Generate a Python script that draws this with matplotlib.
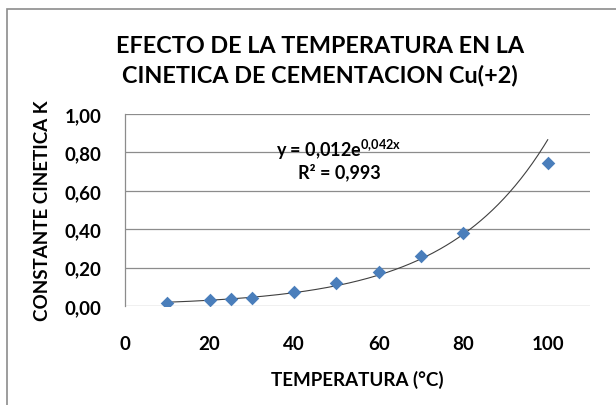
import matplotlib.pyplot as plt
import numpy as np
from matplotlib.patches import Rectangle
from matplotlib.ticker import FuncFormatter

# Datos: temperatura (°C) y constante cinetica K
temperatura = [10, 20, 25, 30, 40, 50, 60, 70, 80, 100]
constante_k = [0.018, 0.030, 0.035, 0.044, 0.073, 0.118, 0.177, 0.260, 0.379, 0.744]

plt.rcParams['font.family'] = ['Lato', 'DejaVu Sans']
plt.rcParams['font.weight'] = 'bold'
plt.rcParams['mathtext.fontset'] = 'custom'
plt.rcParams['mathtext.rm'] = 'Lato:bold'
plt.rcParams['mathtext.bf'] = 'Lato:bold'

fig = plt.figure(figsize=(6.16, 4.06), dpi=100)

# Marco del grafico (estilo Excel)
fig.patches.append(Rectangle((7 / 616, -0.05), 1.1, 1 - 10 / 406 + 0.05,
                             transform=fig.transFigure, fill=False,
                             edgecolor='#8c8c8c', linewidth=1.2))

ax = fig.add_axes([125 / 616, 1 - 307 / 406, 465 / 616, 192 / 406])

# Ajuste exponencial (linea de tendencia)
x = np.array(temperatura)
y = np.array(constante_k)
b, ln_a = np.polyfit(x, np.log(y), 1)
xs = np.linspace(x.min(), x.max(), 200)
ax.plot(xs, np.exp(ln_a) * np.exp(b * xs), color='#404040', linewidth=0.8, zorder=2)

ax.scatter(temperatura, constante_k, marker='D', s=48, color='#4a7ebb', zorder=3,
           linewidths=0)

ax.set_xlim(0, 110)
ax.set_ylim(0, 1.0)
ax.set_xticks([0, 20, 40, 60, 80, 100])
ax.set_yticks([0, 0.2, 0.4, 0.6, 0.8, 1.0])
ax.yaxis.set_major_formatter(FuncFormatter(lambda v, p: f"{v:.2f}".replace('.', ',')))
ax.tick_params(length=0, labelsize=13.5)
ax.tick_params(axis='x', pad=21)
ax.tick_params(axis='y', pad=17)
ax.grid(axis='y', color='#8c8c8c', linewidth=0.9)
ax.set_axisbelow(True)
for s in ['top', 'right', 'bottom']:
    ax.spines[s].set_visible(False)
ax.spines['left'].set_color('#8c8c8c')
ax.spines['left'].set_linewidth(0.9)

ax.set_xlabel("TEMPERATURA (°C)", fontsize=13.5, fontweight='bold', labelpad=13)
ax.set_ylabel("CONSTANTE CINETICA K", fontsize=13.5, fontweight='bold', labelpad=10)

# Ecuacion y R²
ax.text(0.46, 0.82, r"y = 0,012e$^{\mathrm{0{,}042x}}$", transform=ax.transAxes,
        ha='center', va='center', fontsize=13, fontweight='bold')
ax.text(0.46, 0.70, "R² = 0,993", transform=ax.transAxes,
        ha='center', va='center', fontsize=13, fontweight='bold')

fig.text(320 / 616, 1 - 61 / 406, "EFECTO DE LA TEMPERATURA EN LA\nCINETICA DE CEMENTACION Cu(+2)",
         ha='center', va='center', fontsize=16.8, fontweight='bold', linespacing=1.45)

fig.savefig("out.png", dpi=100)
